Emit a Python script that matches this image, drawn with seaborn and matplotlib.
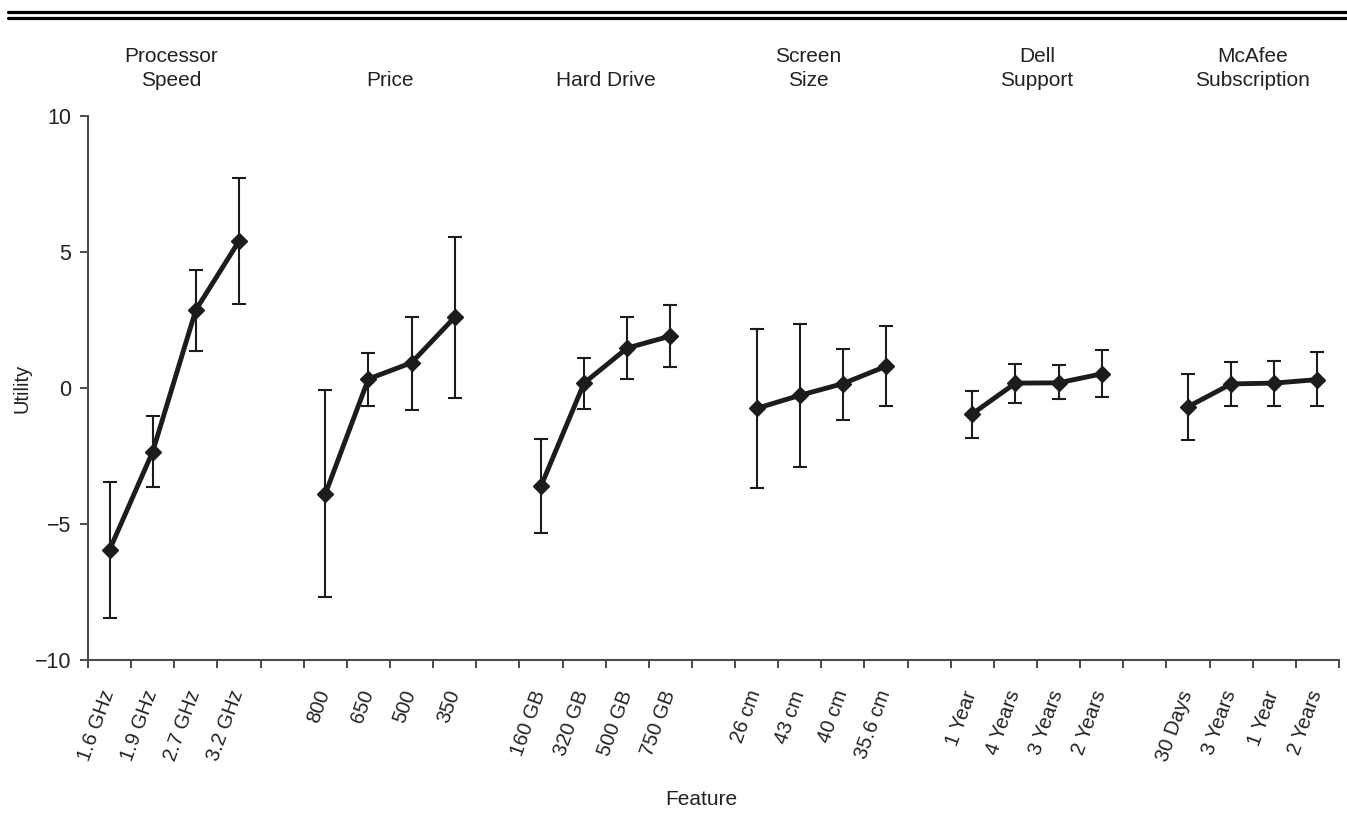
import matplotlib
matplotlib.use("Agg")
import numpy as np
import pandas as pd
import seaborn as sns
import matplotlib.pyplot as plt
import matplotlib.transforms as mtransforms
from matplotlib.lines import Line2D

# ---------------- data ----------------
groups = ["Processor\nSpeed", "Price", "Hard Drive", "Screen\nSize", "Dell\nSupport", "McAfee\nSubscription"]

processor_levels = ["1.6 GHz", "1.9 GHz", "2.7 GHz", "3.2 GHz"]
price_levels = ["800", "650", "500", "350"]
drive_levels = ["160 GB", "320 GB", "500 GB", "750 GB"]
screen_levels = ["26 cm", "43 cm", "40 cm", "35.6 cm"]
dell_levels = ["1 Year", "4 Years", "3 Years", "2 Years"]
mcafee_levels = ["30 Days", "3 Years", "1 Year", "2 Years"]

processor_utility = [-5.95, -2.34, 2.87, 5.40]
price_utility = [-3.90, 0.33, 0.93, 2.60]
drive_utility = [-3.61, 0.18, 1.47, 1.91]
screen_utility = [-0.75, -0.27, 0.16, 0.80]
dell_utility = [-0.95, 0.18, 0.19, 0.52]
mcafee_utility = [-0.69, 0.15, 0.18, 0.31]

processor_low = [-8.47, -3.64, 1.36, 3.08]
processor_high = [-3.46, -1.04, 4.33, 7.71]
price_low = [-7.68, -0.65, -0.82, -0.37]
price_high = [-0.08, 1.29, 2.60, 5.56]
drive_low = [-5.34, -0.78, 0.33, 0.79]
drive_high = [-1.87, 1.10, 2.62, 3.05]
screen_low = [-3.69, -2.92, -1.16, -0.67]
screen_high = [2.18, 2.37, 1.44, 2.28]
dell_low = [-1.83, -0.56, -0.42, -0.34]
dell_high = [-0.10, 0.89, 0.83, 1.38]
mcafee_low = [-1.92, -0.68, -0.67, -0.67]
mcafee_high = [0.50, 0.97, 0.99, 1.31]

yticks = [-10, -5, 0, 5, 10]

# ---------------- table ----------------
all_levels = [processor_levels, price_levels, drive_levels, screen_levels, dell_levels, mcafee_levels]
all_util = [processor_utility, price_utility, drive_utility, screen_utility, dell_utility, mcafee_utility]
all_low = [processor_low, price_low, drive_low, screen_low, dell_low, mcafee_low]
all_high = [processor_high, price_high, drive_high, screen_high, dell_high, mcafee_high]

slot = 5  # 4 levels + 1 empty slot between groups
rows = []
for gi, g in enumerate(groups):
    for li, lev in enumerate(all_levels[gi]):
        rows.append(dict(group=g, level=lev, pos=gi * slot + li + 0.5,
                         utility=all_util[gi][li], low=all_low[gi][li], high=all_high[gi][li]))
df = pd.DataFrame(rows)

# ---------------- style ----------------
sns.set_style("white")
plt.rcParams["font.family"] = ["Liberation Sans", "DejaVu Sans"]
ink = "#1c1c1c"
axis_col = "#4a4a4a"
txt = "#222222"

fig = plt.figure(figsize=(13.47, 8.36), dpi=100)
W, H = 1347, 836
left, right, top, bottom = 88 / W, 1339 / W, 116 / H, 660 / H
ax = fig.add_axes([left, 1 - bottom, right - left, bottom - top])

ax.errorbar(df["pos"], df["utility"],
            yerr=[df["utility"] - df["low"], df["high"] - df["utility"]],
            fmt="none", ecolor=ink, elinewidth=1.5, capsize=5.2, capthick=1.5, zorder=2)

sns.lineplot(data=df, x="pos", y="utility", units="group", estimator=None, sort=False,
             color=ink, lw=3.5, marker="D", markersize=8.5, markeredgecolor=ink,
             markeredgewidth=1, legend=False, ax=ax, zorder=3)

ax.set_xlim(0, len(groups) * slot - 1)
ax.set_ylim(-10, 10)
ax.set_yticks(yticks)
ax.set_xticks(df["pos"])
ax.set_xticklabels(df["level"], rotation=70, ha="right", fontsize=14.5, color=txt)
ax.set_xticks(np.arange(0, len(groups) * slot), minor=True)
ax.tick_params(axis="x", which="major", bottom=True, length=0, pad=20)
ax.tick_params(axis="x", which="minor", bottom=True, length=6, width=1.4, color=axis_col, direction="out")
ax.tick_params(axis="y", which="major", left=True, length=6, width=1.4, color=axis_col, direction="out",
               labelsize=15.5, labelcolor=txt, pad=6)
shift = mtransforms.ScaledTranslation(6 / 72, 0, fig.dpi_scale_trans)
for lab in ax.get_xticklabels():
    lab.set_transform(lab.get_transform() + shift)

for s in ["top", "right"]:
    ax.spines[s].set_visible(False)
for s in ["left", "bottom"]:
    ax.spines[s].set_color(axis_col)
    ax.spines[s].set_linewidth(1.5)

ax.set_xlabel("Feature", fontsize=15, color=txt)
ax.set_ylabel("Utility", fontsize=14.5, color=txt)
ax.xaxis.set_label_coords(0.49, -0.239)
ax.yaxis.set_label_coords(-0.045, 0.5)

trans = mtransforms.blended_transform_factory(ax.transData, ax.transAxes)
header_dx = [-0.07, 0, 0, -0.3, 0, 0]
for gi, g in enumerate(groups):
    cx = gi * slot + 2 + header_dx[gi]
    ax.text(cx, 1.047, g, transform=trans, ha="center", va="bottom",
            fontsize=15, linespacing=1.35, color=txt)

# double rule at top of the figure
for yp in (11.5, 17.5):
    fig.add_artist(Line2D([8 / W, 1.0], [1 - yp / H, 1 - yp / H],
                          transform=fig.transFigure, color="black", lw=2.3))

fig.savefig("out.png", dpi=100)
